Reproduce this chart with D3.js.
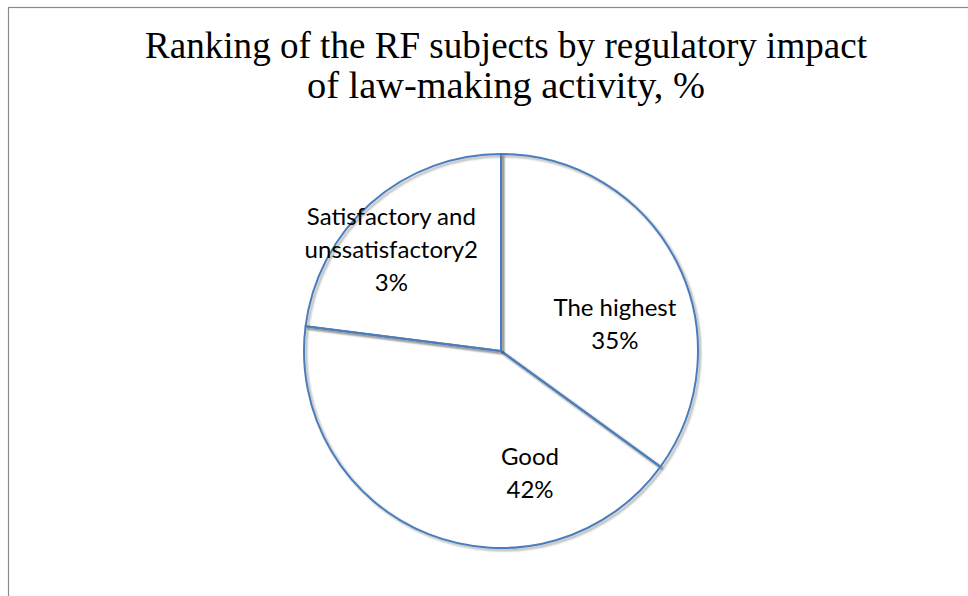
<!DOCTYPE html>
<html>
<head>
<meta charset="utf-8">
<script src="https://cdn.jsdelivr.net/npm/d3@7"></script>
<style>
  body { margin: 0; background: #fff; }
  svg { display: block; }
</style>
</head>
<body>
<script>
// chart data
var categories = ["The highest", "Good", "Satisfactory and unssatisfactory"];
var values = [35, 42, 23];
// how each data label wraps in the picture
var labelLines = [
  ["The highest", "35%"],
  ["Good", "42%"],
  ["Satisfactory and", "unssatisfactory2", "3%"]
];
var titleLines = ["Ranking of the RF subjects by regulatory impact", "of law-making activity, %"];

// svg dimensions
var svgWidth = 968;
var svgHeight = 596;
var cx = 501, cy = 351, radius = 197;

var svg = d3.select("body")
  .append("svg")
  .attr("width", svgWidth)
  .attr("height", svgHeight);

// shadow under the slice outlines
var defs = svg.append("defs");
defs.append("filter")
  .attr("id", "shadow")
  .attr("x", "-20%").attr("y", "-20%")
  .attr("width", "140%").attr("height", "140%")
  .append("feDropShadow")
  .attr("dx", 2).attr("dy", 2)
  .attr("stdDeviation", 1.2)
  .attr("flood-color", "#000")
  .attr("flood-opacity", 0.35);

// chart frame (runs off the right and bottom)
svg.append("rect")
  .attr("x", 8.5).attr("y", 7.5)
  .attr("width", 1000).attr("height", 700)
  .attr("fill", "none")
  .attr("stroke", "#8a8a8a")
  .attr("stroke-width", 1.2);

// title
svg.append("g").selectAll("text")
  .data(titleLines)
  .enter()
  .append("text")
  .attr("x", 506)
  .attr("y", (d, i) => 58 + i * 40)
  .attr("text-anchor", "middle")
  .attr("font-family", "Liberation Serif, Times New Roman, serif")
  .attr("font-size", "38px")
  .attr("fill", "#000")
  .attr("textLength", (d, i) => i === 0 ? 722 : 398)
  .attr("lengthAdjust", "spacingAndGlyphs")
  .text(d => d);

var data = categories.map((c, i) => ({ name: c, value: values[i], lines: labelLines[i] }));

var pie = d3.pie()
  .sort(null)
  .value(d => d.value);

var arc = d3.arc()
  .innerRadius(0)
  .outerRadius(radius);

var arcs = pie(data);

var chartGroup = svg.append("g")
  .attr("transform", `translate(${cx}, ${cy})`);

// white fills
chartGroup.selectAll(".slice")
  .data(arcs)
  .enter()
  .append("path")
  .attr("class", "slice")
  .attr("d", arc)
  .attr("fill", "#fff");

// outlines with shadow
chartGroup.selectAll(".outline")
  .data(arcs)
  .enter()
  .append("path")
  .attr("class", "outline")
  .attr("d", arc)
  .attr("fill", "none")
  .attr("stroke", "#4a7ebb")
  .attr("stroke-width", 2)
  .attr("stroke-linejoin", "round")
  .attr("filter", "url(#shadow)");

// data label placement: angle (deg from 12 o'clock) and distance from centre
var labelPos = [[76.7, 117], [166.7, 126], [312.6, 149]];
var lineGap = 33;

var labels = chartGroup.selectAll(".label")
  .data(arcs)
  .enter()
  .append("text")
  .attr("class", "label")
  .attr("text-anchor", "middle")
  .attr("font-family", "Lato, Carlito, Calibri, sans-serif")
  .attr("font-size", "24px")
  .attr("fill", "#000")
  .attr("transform", (d, i) => {
    var a = labelPos[i][0] * Math.PI / 180;
    var r = labelPos[i][1];
    return `translate(${r * Math.sin(a)}, ${-r * Math.cos(a)})`;
  });

labels.each(function(d) {
  var n = d.data.lines.length;
  d3.select(this).selectAll("tspan")
    .data(d.data.lines)
    .enter()
    .append("tspan")
    .attr("x", 0)
    .attr("y", (t, j) => (j - (n - 1) / 2) * lineGap + 8)
    .text(t => t);
});
</script>
</body>
</html>
